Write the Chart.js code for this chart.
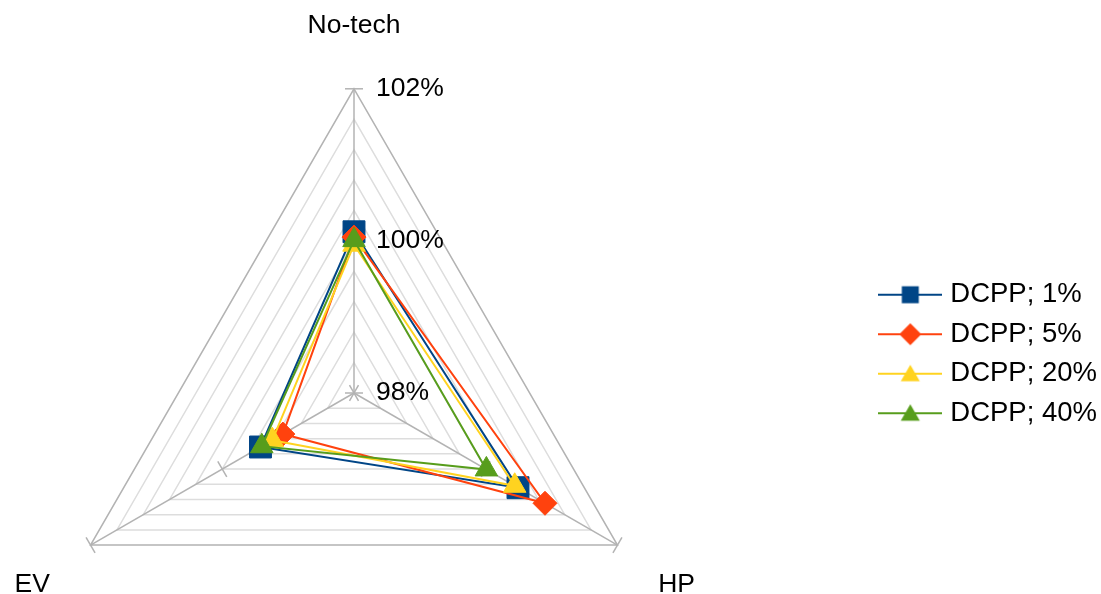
<!DOCTYPE html>
<html lang="en">
<head>
  <meta charset="UTF-8" />
  <title>DCPP radar</title>
  <script src="https://cdn.jsdelivr.net/npm/chart.js"></script>
  <style>
    html, body { margin: 0; padding: 0; background: #fff; overflow: hidden; width: 1101px; height: 594px; }
    body { position: relative; }
    #wrap { position: absolute; left: -164px; top: -29px; }
  </style>
</head>
<body>
  <div id="wrap"><canvas id="grafico" width="1271" height="766"></canvas></div>

  <script>
    var categorias = ['No-tech', 'HP', 'EV'];
    var nomesSeries = ['DCPP; 1%', 'DCPP; 5%', 'DCPP; 20%', 'DCPP; 40%'];
    var dcpp1 = [100.12, 100.49, 99.42];
    var dcpp5 = [100.05, 100.90, 99.08];
    var dcpp20 = [99.95, 100.44, 99.24];
    var dcpp40 = [100.01, 100.01, 99.40];
    var escalaMin = 98;
    var escalaMax = 102;
    var passo = 0.4;
    var ticksPrincipais = [98, 100, 102];
    var rotulosTicks = ['98%', '100%', '102%'];

    var cores = ['#004586', '#ff420e', '#ffd320', '#579d1c'];
    var estilos = ['rect', 'rectRot', 'triangle', 'triangle'];
    var raios = [15.5, 12, 13, 13];
    var fonte = '"Liberation Sans", Arial, sans-serif';

    // icone da legenda: linha com o marcador no meio
    function iconeLegenda(cor, estilo, raio) {
      var c = document.createElement('canvas');
      c.width = 64;
      c.height = 26;
      var g = c.getContext('2d');
      g.strokeStyle = cor;
      g.lineWidth = 2;
      g.beginPath();
      g.moveTo(0, 13);
      g.lineTo(64, 13);
      g.stroke();
      g.fillStyle = cor;
      Chart.helpers.drawPoint(g, { pointStyle: estilo, radius: raio, rotation: 0, borderWidth: 0 }, 32, estilo == 'triangle' ? 15 : 13);
      return c;
    }

    var icones = [];
    for (var i = 0; i < cores.length; i++) {
      icones.push(iconeLegenda(cores[i], estilos[i], i == 0 ? 12 : 11));
    }

    var ticksLaterais = {
      id: 'ticksLaterais',
      beforeDatasetsDraw: function(chart) {
        var r = chart.scales.r;
        var ctx = chart.ctx;
        ctx.save();
        ctx.strokeStyle = '#b3b3b3';
        ctx.lineWidth = 1.5;
        for (var k = 0; k < ticksPrincipais.length; k++) {
          for (var j = 0; j < categorias.length; j++) {
            var p = r.getPointPositionForValue(j, ticksPrincipais[k]);
            var ang = r.getIndexAngle(j) - Math.PI / 2;
            var px = -Math.sin(ang);
            var py = Math.cos(ang);
            ctx.beginPath();
            ctx.moveTo(p.x - px * 9, p.y - py * 9);
            ctx.lineTo(p.x + px * 9, p.y + py * 9);
            ctx.stroke();
          }
        }
        ctx.fillStyle = '#000';
        ctx.font = '26.5px ' + fonte;
        ctx.textAlign = 'left';
        ctx.textBaseline = 'middle';
        for (var k2 = 0; k2 < ticksPrincipais.length; k2++) {
          var d = r.getDistanceFromCenterForValue(ticksPrincipais[k2]);
          ctx.fillText(rotulosTicks[k2], r.xCenter + 22, r.yCenter - d);
        }
        ctx.restore();
      }
    };

    var valores = [dcpp1, dcpp5, dcpp20, dcpp40];
    var datasets = [];
    for (var s = 0; s < valores.length; s++) {
      datasets.push({
        label: nomesSeries[s],
        data: valores[s],
        borderColor: cores[s],
        backgroundColor: cores[s],
        borderWidth: 2,
        fill: false,
        pointStyle: estilos[s],
        pointRadius: raios[s],
        pointBackgroundColor: cores[s],
        pointBorderColor: cores[s],
        pointBorderWidth: 1,
        order: valores.length - s
      });
    }

    new Chart(document.getElementById('grafico'), {
      type: 'radar',
      data: {
        labels: categorias,
        datasets: datasets
      },
      options: {
        responsive: false,
        animation: false,
        events: [],
        layout: { padding: 0 },
        elements: { line: { tension: 0 } },
        scales: {
          r: {
            min: escalaMin,
            max: escalaMax,
            ticks: { stepSize: passo, display: false },
            grid: {
              color: function(c) {
                return c.tick && Math.abs(c.tick.value - escalaMax) < 0.001 ? '#b3b3b3' : '#dddddd';
              },
              lineWidth: 1.5
            },
            angleLines: { color: '#b3b3b3', lineWidth: 1.5 },
            pointLabels: {
              color: '#000',
              padding: 47,
              font: { family: fonte, size: 26.5 }
            }
          }
        },
        plugins: {
          tooltip: { enabled: false },
          legend: {
            position: 'right',
            labels: {
              usePointStyle: true,
              pointStyleWidth: 52.5,
              padding: 12,
              color: '#000',
              font: { family: fonte, size: 27.5 },
              sort: function(a, b) { return a.datasetIndex - b.datasetIndex; },
              generateLabels: function(chart) {
                var itens = Chart.defaults.plugins.legend.labels.generateLabels(chart);
                for (var n = 0; n < itens.length; n++) {
                  itens[n].pointStyle = icones[itens[n].datasetIndex];
                }
                return itens;
              }
            }
          }
        }
      },
      plugins: [ticksLaterais]
    });
  </script>
</body>
</html>
